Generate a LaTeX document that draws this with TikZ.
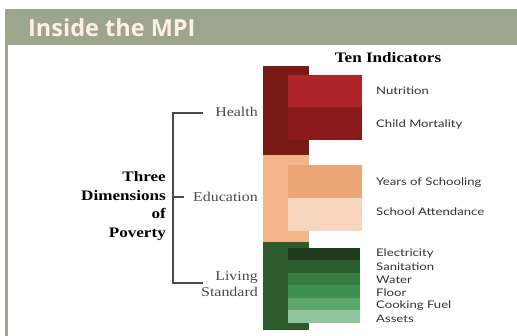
\documentclass[tikz,border=0pt]{standalone}
\usepackage{fontspec}
\newfontfamily\titlefont{Open Sans}
\newfontfamily\labelfont[FakeStretch=1.25]{Lato}
\newfontfamily\serifwide[FakeStretch=1.18]{Liberation Serif}
\definecolor{bar}{HTML}{9DA58C}
\definecolor{cream}{HTML}{FDF0E0}
\definecolor{hdark}{HTML}{7A1A16}
\definecolor{hnut}{HTML}{AE2428}
\definecolor{hchild}{HTML}{8B1A1B}
\definecolor{eback}{HTML}{F4B48A}
\definecolor{eyears}{HTML}{EBA577}
\definecolor{eatt}{HTML}{F8D5BF}
\definecolor{lback}{HTML}{2E5B2C}
\definecolor{lsA}{HTML}{1F3D1E}
\definecolor{lsB}{HTML}{2B5E2E}
\definecolor{lsC}{HTML}{377D3F}
\definecolor{lsD}{HTML}{3F8F4E}
\definecolor{lsE}{HTML}{5CA66C}
\definecolor{lsF}{HTML}{8FC49C}
\definecolor{txt}{HTML}{333333}
\definecolor{dimtxt}{HTML}{4A4A4A}
\definecolor{brk}{HTML}{4A4A4A}
\tikzset{
  indlabel/.style={anchor=west, inner sep=0, text=txt, font=\labelfont\fontsize{10.5}{11}\selectfont},
  dimlabel/.style={anchor=east, inner sep=0, text=dimtxt, align=right, font=\serifwide\fontsize{13.5}{16}\selectfont},
  bracket/.style={draw=brk, line width=2pt}
}
\begin{document}
\begin{tikzpicture}[x=1pt,y=-1pt]
\useasboundingbox (0,0) rectangle (517,336);
\fill[white] (0,0) rectangle (517,336);
% title bar and frame
\fill[bar] (5,9) rectangle (517,45);
\fill[bar] (5,45) rectangle (7.5,336);
\node[anchor=base west, inner sep=0, text=cream, font=\titlefont\bfseries\fontsize{23.5}{24}\selectfont] (title) at (28,37) {Inside the MPI};
% header
\node[inner sep=0, font=\serifwide\bfseries\fontsize{14.5}{15}\selectfont, text=black] (ten) at (388,58) {Ten Indicators};
% health
\fill[hdark] (263,66) rectangle (309,155);
\fill[hnut] (288,75) rectangle (362,107);
\fill[hchild] (288,107) rectangle (362,140);
% education
\fill[eback] (263,155) rectangle (309,242);
\fill[eyears] (288,165) rectangle (362,198);
\fill[eatt] (288,198) rectangle (362,231);
% living standard
\fill[lback] (263,242) rectangle (309,330);
\fill[lsA] (288,248) rectangle (360,260.5);
\fill[lsB] (288,260.5) rectangle (360,273);
\fill[lsC] (288,273) rectangle (360,285.5);
\fill[lsD] (288,285.5) rectangle (360,298);
\fill[lsE] (288,298) rectangle (360,310.5);
\fill[lsF] (288,310.5) rectangle (360,323);
% indicator labels
\node[indlabel] (nut) at (376,91) {Nutrition};
\node[indlabel] (chm) at (376,125) {Child Mortality};
\node[indlabel] (yrs) at (376,183) {Years of Schooling};
\node[indlabel] (att) at (376,212) {School Attendance};
\node[indlabel] (ele) at (376,253.5) {Electricity};
\node[indlabel] (san) at (376,266.5) {Sanitation};
\node[indlabel] (wat) at (376,279.5) {Water};
\node[indlabel] (flo) at (376,292.5) {Floor};
\node[indlabel] (cok) at (376,305.5) {Cooking Fuel};
\node[indlabel] (ass) at (376,318.5) {Assets};
% dimension labels
\node[dimlabel] (health) at (258,112) {Health};
\node[dimlabel] (edu) at (258,197) {Education};
\node[dimlabel] (liv) at (258,284) {Living\\Standard};
\node[anchor=east, inner sep=0, align=right, text=black, font=\serifwide\bfseries\fontsize{14.5}{18.5}\selectfont] (three) at (166,206) {Three\\Dimensions\\of\\Poverty};
% bracket
\coordinate (bt) at (173,113);
\coordinate (bb) at (173,283);
\coordinate (bm) at (173,197);
\coordinate (tt) at (203,113);
\coordinate (tb) at (203,283);
\coordinate (tm) at (184,197);
\draw[bracket] (tt) -- (bt) -- (bb) -- (tb);
\draw[bracket] (bm) -- (tm);
\end{tikzpicture}
\end{document}
